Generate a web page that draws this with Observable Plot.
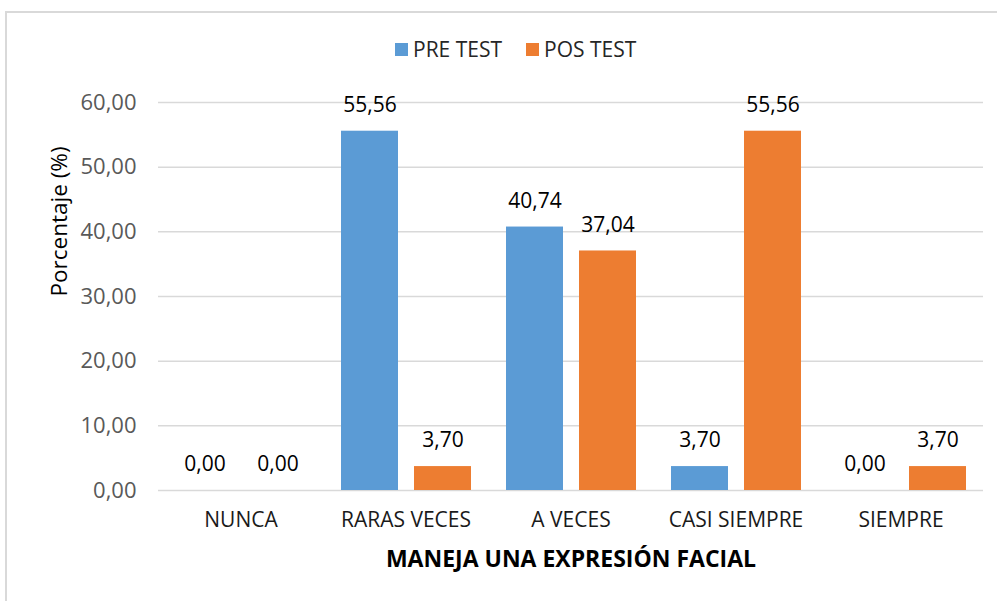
<!DOCTYPE html>
<html><head><meta charset="utf-8">
<script src="https://cdn.jsdelivr.net/npm/d3@7"></script>
<script src="https://cdn.jsdelivr.net/npm/@observablehq/plot@0.6"></script>
<style>
body{margin:0;background:#fff;}
#wrap{position:relative;width:997px;height:601px;overflow:hidden;font-family:"Open Sans",sans-serif;background:#fff;}
#frame{position:absolute;left:5px;top:11px;width:1100px;height:700px;border-left:2px solid #d9d9d9;border-top:2px solid #d9d9d9;pointer-events:none;box-sizing:border-box;}
#legend{position:absolute;top:35px;left:395px;display:flex;align-items:center;font-size:21px;color:#262626;white-space:nowrap;}
#legend .sw{display:inline-block;width:13px;height:13px;margin-right:5px;}
#legend .item{display:flex;align-items:center;margin-right:24px;}
#chart{position:absolute;left:0;top:0;}
</style>
</head><body>
<div id="wrap"><div id="chart"></div><div id="frame"></div><div id="legend"></div></div>
<script>
const categories = ["NUNCA", "RARAS VECES", "A VECES", "CASI SIEMPRE", "SIEMPRE"];
const series = ["PRE TEST", "POS TEST"];
const preTest = [0.00, 55.56, 40.74, 3.70, 0.00];
const posTest = [0.00, 3.70, 37.04, 55.56, 3.70];
const yTicks = [0, 10, 20, 30, 40, 50, 60];
const colors = ["#5B9BD5", "#ED7D31"];
const xTitle = "MANEJA UNA EXPRESIÓN FACIAL";
const yTitle = "Porcentaje (%)";

const fmt = d => d.toFixed(2).replace(".", ",");
const data = categories.flatMap((c, i) => [
  {cat: c, serie: series[0], value: preTest[i]},
  {cat: c, serie: series[1], value: posTest[i]}
]);

const chart = Plot.plot({
  width: 997, height: 601,
  marginTop: 102, marginBottom: 111, marginLeft: 157, marginRight: 14,
  style: {fontFamily: "Open Sans", fontSize: "20px", background: "transparent"},
  fx: {domain: categories, paddingInner: 0, paddingOuter: 0, label: null, axis: null},
  x: {domain: series, paddingInner: 0.22, paddingOuter: 0.24, axis: null},
  y: {domain: [0, 60]},
  color: {domain: series, range: colors},
  marks: [
    Plot.gridY(yTicks, {stroke: "#d9d9d9", strokeOpacity: 1, strokeWidth: 1.5}),
    Plot.axisY(yTicks, {tickSize: 0, tickPadding: 22, tickFormat: fmt, fill: "#595959", label: null, fontSize: 22}),
    Plot.axisFx({anchor: "bottom", tickSize: 0, tickPadding: 22, label: null, fill: "#1a1a1a", fontSize: 21}),
    Plot.barY(data, {fx: "cat", x: "serie", y: "value", fill: "serie"}),
    Plot.text(data, {fx: "cat", x: "serie", y: "value", text: d => fmt(d.value), dy: -26, fill: "#000", fontSize: 21}),
    Plot.text([yTitle], {frameAnchor: "left", rotate: -90, dx: -99, fill: "#000", fontSize: 22.5, facet: "super"}),
    Plot.text([xTitle], {frameAnchor: "bottom", dy: 76, fill: "#000", fontSize: 23, fontWeight: "bold", facet: "super"})
  ]
});
document.getElementById("chart").appendChild(chart);

const legend = document.getElementById("legend");
series.forEach((s, i) => {
  const it = document.createElement("div");
  it.className = "item";
  const sw = document.createElement("span");
  sw.className = "sw";
  sw.style.background = colors[i];
  it.appendChild(sw);
  it.appendChild(document.createTextNode(s));
  legend.appendChild(it);
});
</script>
</body></html>
